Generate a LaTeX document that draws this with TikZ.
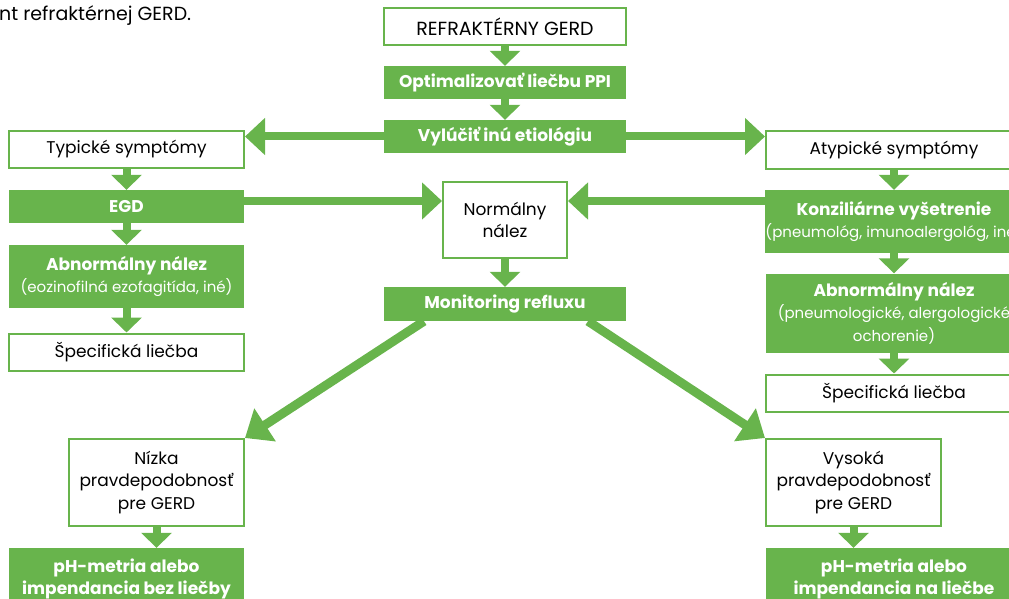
\documentclass[tikz,border=0pt]{standalone}
\usepackage{fontspec}
\setmainfont{Poppins}
\usetikzlibrary{arrows.meta}
\definecolor{gr}{RGB}{104,180,76}
\newcommand\smfnt{\fontsize{15}{20.5}\selectfont\mdseries}
\begin{document}
\begin{tikzpicture}[x=1pt,y=-1pt,
  wbox/.style={draw=gr, line width=2pt, fill=white, inner sep=0pt, align=center, font=\fontsize{17}{22.5}\selectfont, text=black},
  gbox/.style={fill=gr, inner sep=0pt, align=center, font=\fontsize{17}{22.5}\selectfont\bfseries, text=white},
  harr/.style={draw=gr, line width=8pt, -{Triangle[length=20pt,width=36pt]}},
  darr/.style={draw=gr, line width=8pt, -{Triangle[length=15pt,width=30pt]}},
  diarr/.style={draw=gr, line width=9pt, -{Triangle[length=24pt,width=38pt]}}]
\clip (0,0) rectangle (1009,599);
\useasboundingbox (0,0) rectangle (1009,599);
\node[anchor=base west, inner sep=0pt, font=\fontsize{19}{23}\selectfont] (cap) at (-1,21) {nt refraktérnej GERD.};
% centre column
\node[wbox, minimum width=242, minimum height=37, font=\fontsize{19}{22.5}\selectfont] (ref) at (505,26.5) {REFRAKTÉRNY GERD};
\node[gbox, minimum width=242, minimum height=33] (opt) at (505,82.5) {Optimalizovať liečbu PPI};
\node[gbox, minimum width=242, minimum height=33] (vyl) at (505,136.5) {Vylúčiť inú etiológiu};
\node[wbox, minimum width=124, minimum height=76] (norm) at (505,220) {Normálny\\nález};
\node[gbox, minimum width=242, minimum height=34] (mon) at (505,304) {Monitoring refluxu};
% left column
\node[wbox, minimum width=235, minimum height=37] (typ) at (126.5,149.5) {Typické symptómy};
\node[gbox, minimum width=235, minimum height=33] (egd) at (126.5,206.5) {EGD};
\node[gbox, minimum width=235, minimum height=63] (abnl) at (126.5,276.5) {Abnormálny nález\\{\smfnt(eozinofilná ezofagitída, iné)}};
\node[wbox, minimum width=235, minimum height=37] (spl) at (126.5,352) {Špecifická liečba};
\node[wbox, minimum width=175, minimum height=87] (niz) at (156.5,482.5) {Nízka\\pravdepodobnosť\\pre GERD};
\node[gbox, minimum width=235, minimum height=62] (phl) at (126.5,579) {pH-metria alebo\\impendancia bez liečby};
% right column
\node[wbox, minimum width=256, minimum height=37] (atyp) at (894,150) {Atypické symptómy};
\node[gbox, minimum width=256, minimum height=63] (kon) at (894,221.5) {Konziliárne vyšetrenie\\{\smfnt(pneumológ, imunoalergológ, iné)}};
\node[gbox, minimum width=256, minimum height=79] (abnr) at (894,313) {Abnormálny nález\\{\smfnt(pneumologické, alergologické}\\{\smfnt ochorenie)}};
\node[wbox, minimum width=256, minimum height=37] (spr) at (894,393) {Špecifická liečba};
\node[wbox, minimum width=175, minimum height=87] (vys) at (853.5,482.5) {Vysoká\\pravdepodobnosť\\pre GERD};
\node[gbox, minimum width=256, minimum height=62] (phr) at (894,579) {pH-metria alebo\\impendancia na liečbe};
% connectors
\coordinate (hy) at (0,201);
\draw[darr] (ref.south) -- (opt.north);
\draw[darr] (opt.south) -- (vyl.north);
\draw[harr] (vyl.west) -- (vyl.west -| typ.east);
\draw[harr] (vyl.east) -- (vyl.east -| atyp.west);
\draw[darr] (typ.south) -- (egd.north);
\draw[darr] (egd.south) -- (abnl.north);
\draw[darr] (abnl.south) -- (spl.north);
\draw[darr] (atyp.south) -- (kon.north);
\draw[darr] (kon.south) -- (abnr.north);
\draw[darr] (abnr.south) -- (spr.north);
\draw[harr] (egd.east |- hy) -- (norm.west |- hy);
\draw[harr] (kon.west |- hy) -- (norm.east |- hy);
\draw[darr] (norm.south) -- (mon.north);
\draw[diarr] ([xshift=-81pt]mon.south) -- (niz.north east);
\draw[diarr] ([xshift=83pt]mon.south) -- (vys.north west);
\draw[darr] (niz.south) -- (niz.south |- phl.north);
\draw[darr] (vys.south) -- (vys.south |- phr.north);
\end{tikzpicture}
\end{document}
